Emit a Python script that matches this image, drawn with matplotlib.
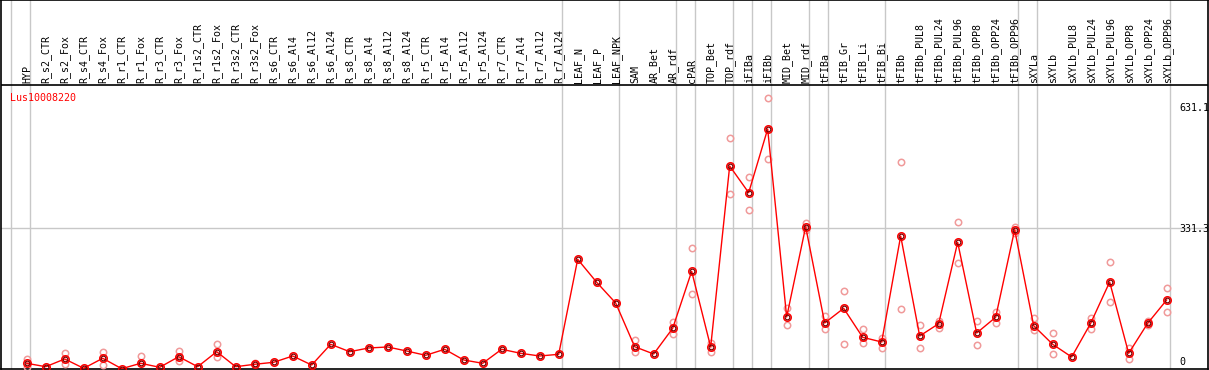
import numpy as np
import matplotlib.pyplot as plt

nan = np.nan

gene = "Lus10008220"

samples = [
    "HYP", "R_s2_CTR", "R_s2_Fox", "R_s4_CTR", "R_s4_Fox", "R_r1_CTR", "R_r1_Fox",
    "R_r3_CTR", "R_r3_Fox", "R_r1s2_CTR", "R_r1s2_Fox", "R_r3s2_CTR", "R_r3s2_Fox",
    "R_s6_CTR", "R_s6_Al4", "R_s6_Al12", "R_s6_Al24", "R_s8_CTR", "R_s8_Al4",
    "R_s8_Al12", "R_s8_Al24", "R_r5_CTR", "R_r5_Al4", "R_r5_Al12", "R_r5_Al24",
    "R_r7_CTR", "R_r7_Al4", "R_r7_Al12", "R_r7_Al24", "LEAF_N", "LEAF_P", "LEAF_NPK",
    "SAM", "AR_Bet", "AR_rdf", "cPAR", "TOP_Bet", "TOP_rdf", "iFIBa", "iFIBb",
    "MID_Bet", "MID_rdf", "tFIBa", "tFIB_Gr", "tFIB_Li", "tFIB_Bi", "tFIBb",
    "tFIBb_PUL8", "tFIBb_PUL24", "tFIBb_PUL96", "tFIBb_OPP8", "tFIBb_OPP24",
    "tFIBb_OPP96", "sXYLa", "sXYLb", "sXYLb_PUL8", "sXYLb_PUL24", "sXYLb_PUL96",
    "sXYLb_OPP8", "sXYLb_OPP24", "sXYLb_OPP96",
]

# number of samples in each tissue group (separated by grey lines)
group_sizes = [1, 28, 3, 3, 1, 2, 1, 1, 2, 1, 3, 7, 1, 7]

mean_expr = [
    20.1, 12.2, 30.0, 8.5, 31.6, 7.6, 20.1, 10.8, 35.3, 12.2, 46.8, 12.2, 17.8,
    22.4, 36.9, 16.1, 63.9, 46.8, 55.4, 57.7, 48.4, 38.5, 52.4, 27.7, 20.1,
    52.4, 43.1, 36.9, 40.8, 259.9, 206.9, 159.1, 58.3, 41.5, 100.8, 232.2,
    57.7, 475.1, 413.5, 560.4, 126.8, 335.1, 113.0, 146.9, 80.0, 69.2, 313.7,
    83.0, 111.4, 299.1, 89.9, 126.2, 328.2, 106.8, 63.9, 34.6, 112.3, 207.6,
    43.1, 112.3, 166.1,
]

rep_a = [
    30.0, nan, 43.1, nan, 46.8, nan, 36.9, nan, 49.1, nan, 65.3, nan, 20.1,
    nan, nan, nan, nan, nan, nan, nan, nan, nan, nan, nan, nan,
    nan, nan, nan, nan, nan, nan, nan, 73.8, nan, 116.0, 285.3,
    66.2, 539.0, 449.0, 631.1, 146.9, 344.3, 129.2, 187.5, 98.5, 77.7, 483.6,
    107.7, 117.6, 345.3, 117.6, 138.4, 335.1, 123.8, 89.3, nan, 123.8, 253.0,
    56.0, 117.6, 193.0,
]

rep_b = [
    11.5, nan, 17.8, nan, 16.1, nan, nan, nan, 25.4, nan, 33.9, nan, nan,
    nan, nan, nan, nan, nan, nan, nan, nan, nan, nan, nan, nan,
    nan, nan, nan, nan, nan, nan, nan, 45.4, nan, 86.9, 179.2,
    45.4, 409.8, 373.6, 490.6, 107.7, 327.5, 99.2, 63.9, 66.2, 54.7, 144.6,
    54.7, 102.2, 251.4, 61.6, 113.7, 319.9, 96.9, 40.8, nan, 99.2, 160.8,
    30.7, 108.4, 137.7,
]

y_ticks = [631.1, 331.3, 0]

x = np.arange(len(samples))

fig = plt.figure(figsize=(12.09, 3.70), dpi=100)
ax = fig.add_axes([1 / 1209, 1 / 370, 1206.7 / 1209, 369 / 370])
ax.set_xlim(-1.353, 62.16)
ax.set_ylim(6.92, 857.9)
ax.set_xticks([])
ax.set_yticks([])
for s in ax.spines.values():
    s.set_color("black")
    s.set_linewidth(1.2)

font = dict(family="DejaVu Sans Mono", fontsize=7.2)

# group separators
bounds = np.concatenate([[-1], np.cumsum(group_sizes) - 1]) + 0.19
for b in bounds:
    ax.axvline(b, color="#c8c8c8", lw=1, zorder=1)
ax.axhline(331.3, color="#c8c8c8", lw=1, zorder=1)

# header line under the sample names
ax.axhline(661.9, color="black", lw=1.2, zorder=2)
for i, name in enumerate(samples):
    ax.text(i + 0.03, 666.5, name, rotation=90, rotation_mode="anchor",
            ha="left", va="center", color="black", **font)

# right hand value labels (drawn on a slightly compressed scale, as in the source)
for v in y_ticks:
    ax.text(60.65, 23 + v * 0.9284, f"{v:g}" if v == 0 else f"{v:.1f}",
            ha="left", va="center", color="black", **font)

ax.text(-0.9, 632, gene, color="red", ha="left", va="center", **font)

# replicates
ax.plot(x, rep_a, ls="none", marker="o", ms=4.6, mfc="none", mec="#f09a9a", mew=1.1, zorder=3)
ax.plot(x, rep_b, ls="none", marker="o", ms=4.6, mfc="none", mec="#f09a9a", mew=1.1, zorder=3)

# mean profile
ax.plot(x, mean_expr, color="red", lw=1, zorder=4)
ax.plot(x, mean_expr, ls="none", marker="o", ms=5.4, mfc="none", mec="red", mew=1.1, zorder=5)
ax.plot(x, mean_expr, ls="none", marker="o", ms=3.4, mfc="none", mec="#7a0000", mew=0.9, zorder=6)

plt.savefig("out.png", dpi=100)
